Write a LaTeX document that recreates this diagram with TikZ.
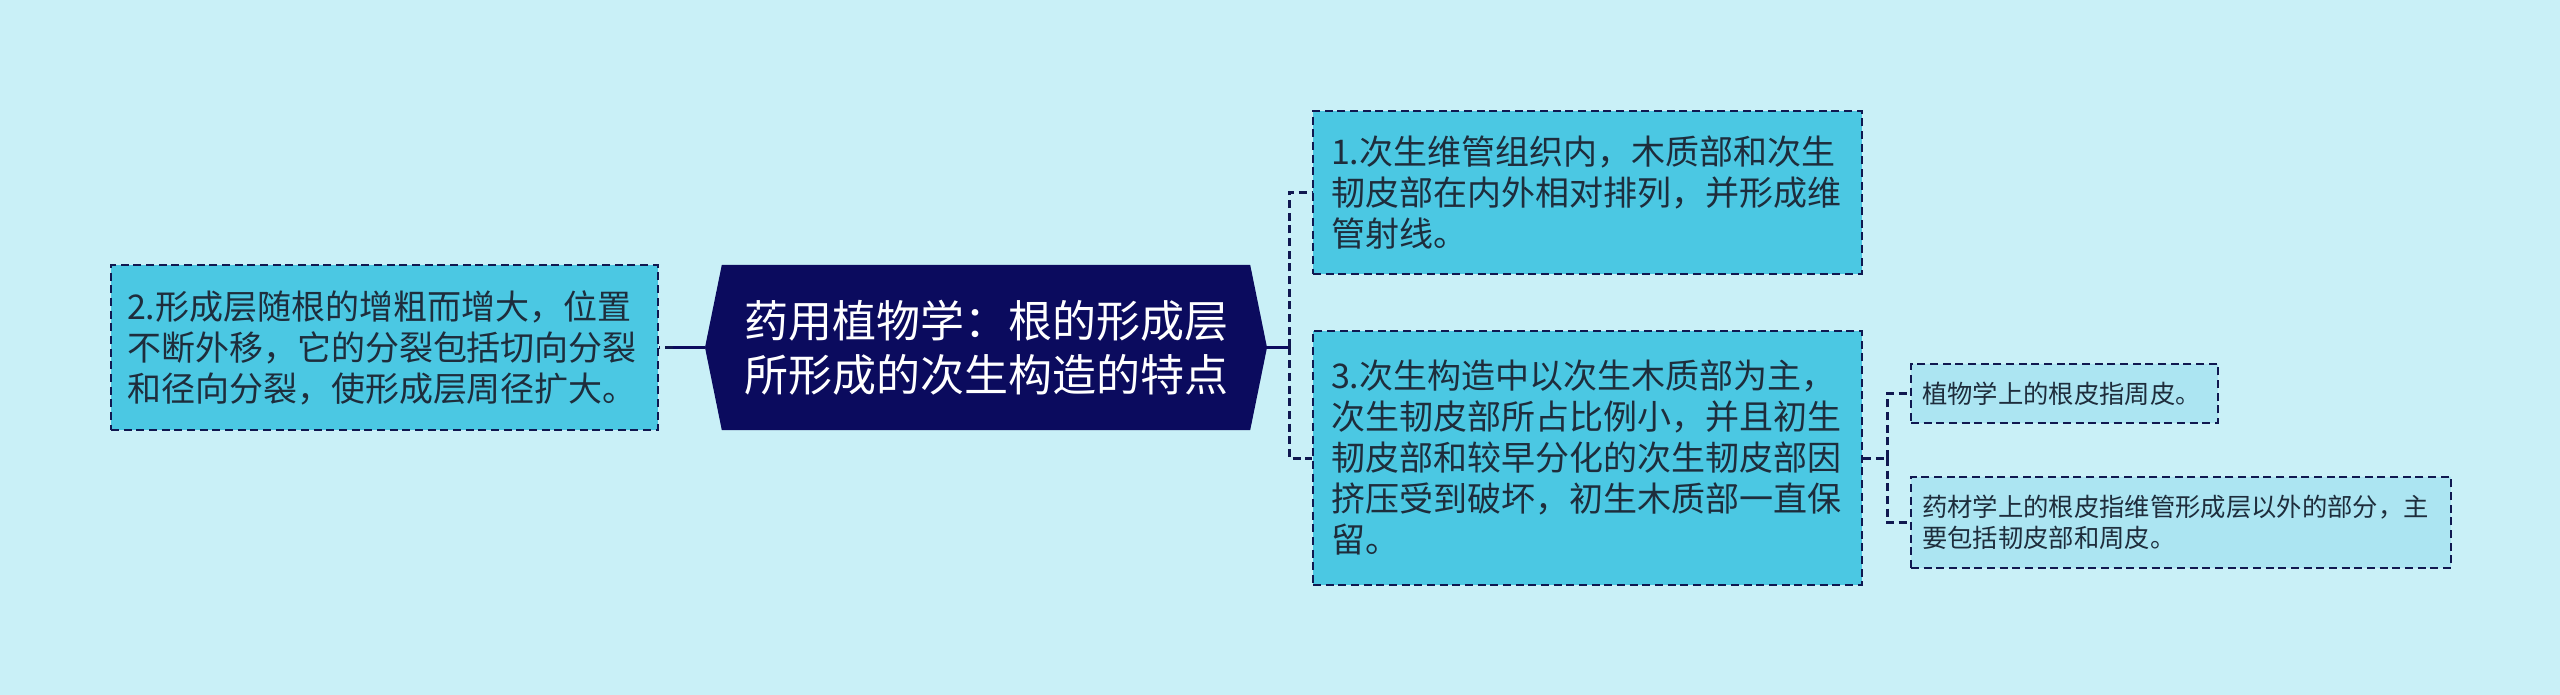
\documentclass[tikz,border=0pt]{standalone}
\usepackage{fontspec}
\setmainfont{Noto Sans CJK SC}
\definecolor{bgcyan}{RGB}{201, 240, 247}
\definecolor{boxcyan}{RGB}{75, 200, 227}
\definecolor{leafcyan}{RGB}{172, 229, 242}
\definecolor{navy1}{RGB}{11, 11, 94}
\definecolor{edge1}{RGB}{16, 24, 80}
\definecolor{ink1}{RGB}{30, 45, 60}
\usetikzlibrary{shapes, positioning, calc}

\begin{document}
\begin{tikzpicture}[x=0.75pt, y=-0.75pt,
  topicbox/.style={shape=signal, signal to=west and east, signal pointer angle=157, fill=navy1, text=white, minimum width=421.5pt, minimum height=123.75pt, inner sep=0pt, align=center, font=\fontsize{33}{40.5}\selectfont},
  subbox/.style={draw=edge1, line width=1.6pt, dash pattern=on 6pt off 3.5pt, fill=boxcyan, text=ink1, align=left, inner ysep=0pt, font=\fontsize{25.5}{30.75}\selectfont},
  leafbox/.style={draw=edge1, line width=1.6pt, dash pattern=on 6pt off 3.5pt, fill=leafcyan, text=ink1, align=left, inner ysep=0pt, font=\fontsize{19}{23.25}\selectfont},
  link/.style={draw=navy1, line width=2.25pt},
  dlink/.style={draw=edge1, line width=2.25pt, dash pattern=on 6pt off 3.5pt}
]
  \useasboundingbox (0, 0) rectangle (2560, 695);
  \fill[bgcyan] (0, 0) rectangle (2560, 695);

  % Centre topic
  \node[topicbox] (topic) at (986, 347.5) {药用植物学：根的形成层\\所形成的次生构造的特点};

  % Left branch
  \node[subbox, text width=386.25pt, inner xsep=12pt, minimum height=123.75pt] (formlayer) at (384.5, 347.5) {
    2.形成层随根的增粗而增大，位置\\
    不断外移，它的分裂包括切向分裂\\
    和径向分裂，使形成层周径扩大。
  };

  % Right branches
  \node[subbox, text width=384.75pt, inner xsep=13.5pt, minimum height=122.25pt] (vascular) at (1587.5, 192.5) {
    1.次生维管组织内，木质部和次生\\
    韧皮部在内外相对排列，并形成维\\
    管射线。
  };
  \node[subbox, text width=384.75pt, inner xsep=13.5pt, minimum height=190.5pt] (secondary) at (1587.5, 458) {
    3.次生构造中以次生木质部为主，\\
    次生韧皮部所占比例小，并且初生\\
    韧皮部和较早分化的次生韧皮部因\\
    挤压受到破坏，初生木质部一直保\\
    留。
  };

  % Leaves of 3
  \node[leafbox, text width=213.75pt, inner xsep=8.25pt, minimum height=44.25pt] (botany) at (2064.5, 393.5) {植物学上的根皮指周皮。};
  \node[leafbox, text width=388.5pt, inner xsep=8.25pt, minimum height=68.25pt] (pharma) at (2181, 522.5) {
    药材学上的根皮指维管形成层以外的部分，主\\
    要包括韧皮部和周皮。
  };

  % Connectors
  \draw[link] (topic.west) -- ++(-32, 0) coordinate (lj);
  \draw[dlink] (lj) -- (formlayer.east);
  \draw[link] (topic.east) -- ++(22, 0) coordinate (rj);
  \draw[dlink] (rj) |- (vascular.west);
  \draw[dlink] (rj) |- (secondary.west);
  \draw[dlink] (secondary.east) -- ++(24, 0) coordinate (sj);
  \draw[dlink] (sj) |- (botany.west);
  \draw[dlink] (sj) |- (pharma.west);
\end{tikzpicture}
\end{document}
